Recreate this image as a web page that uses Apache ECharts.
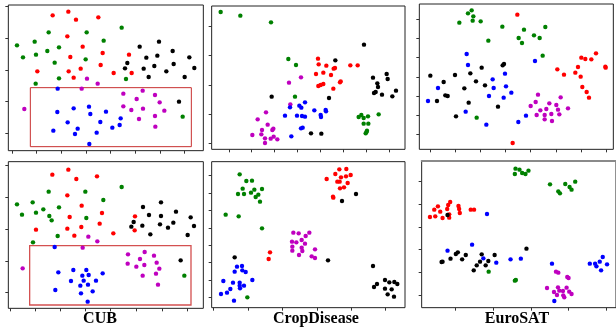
<!DOCTYPE html>
<html>
<head>
<meta charset="utf-8">
<script src="https://cdn.jsdelivr.net/npm/echarts@6/dist/echarts.min.js"></script>
<style>html,body{margin:0;padding:0;background:#fff}#c{width:616px;height:327px}</style>
</head>
<body>
<div id="c"></div>
<script>
// ---- data (t-SNE embedding coordinates, arbitrary units; y axis points downward) ----
const panelTitles = ['CUB', 'CropDisease', 'EuroSAT'];
const classNames = ['red', 'green', 'black', 'magenta', 'blue'];

// Panel 1: CUB (top)
const cubTopRed = [[158,46],[205,35],[228,59],[295,52],[202,109],[248,140],[308,159],[211,171],[112,214],[206,214],[242,206],[302,195],[221,233],[341,219],[387,164],[395,219]];
const cubTopGreen = [[51,136],[69,172],[104,125],[108,164],[146,97],[142,153],[177,142],[164,188],[177,235],[107,251],[260,97],[257,178],[311,122],[365,83],[378,237],[548,350]];
const cubTopBlack = [[419,140],[477,125],[439,173],[472,167],[518,153],[568,172],[382,189],[375,205],[431,206],[463,198],[521,192],[583,204],[446,231],[499,214],[554,231],[537,305]];
const cubTopMagenta = [[73,327],[245,266],[261,236],[293,251],[370,281],[428,272],[465,285],[410,297],[479,307],[370,319],[394,330],[429,326],[493,332],[417,357],[465,348],[466,380]];
const cubTopBlue = [[173,266],[172,336],[221,325],[267,320],[271,342],[318,335],[160,392],[203,367],[233,386],[225,402],[301,366],[362,355],[337,383],[359,375],[290,398],[268,432]];

// Panel 2: CropDisease (top)
const cropTopRed = [[339,176],[341,193],[364,197],[386,206],[390,204],[436,196],[458,196],[333,222],[355,218],[378,225],[407,244],[405,247],[340,258],[347,255],[355,252],[385,266]];
const cropTopGreen = [[47,36],[106,47],[198,67],[250,177],[273,195],[270,290],[461,351],[469,345],[476,354],[489,349],[476,371],[490,371],[486,392],[484,397],[482,400],[521,343]];
const cropTopBlack = [[477,134],[391,181],[504,233],[545,222],[548,237],[517,250],[519,261],[507,279],[512,276],[531,284],[573,272],[562,289],[372,294],[200,290],[318,400],[349,401]];
const cropTopMagenta = [[252,248],[288,232],[256,313],[183,337],[158,358],[188,374],[171,390],[205,386],[202,390],[142,405],[169,403],[180,415],[197,416],[206,410],[217,418],[180,429]];
const cropTopBlue = [[300,307],[283,317],[289,323],[255,322],[240,347],[276,347],[291,348],[300,350],[328,331],[362,330],[363,334],[347,345],[348,351],[288,385],[293,383],[259,409]];

// Panel 3: EuroSAT (top)
const euroTopRed = [[322,44],[442,208],[462,224],[496,218],[504,201],[512,230],[514,173],[526,177],[544,178],[558,160],[586,200],[587,203],[517,261],[530,276],[537,293],[308,429]];
const euroTopGreen = [[174,40],[185,31],[190,49],[188,62],[212,64],[148,68],[277,80],[406,81],[342,89],[235,122],[326,114],[336,129],[372,106],[389,114],[398,167],[200,353]];
const euroTopBlack = [[61,227],[135,225],[181,220],[215,203],[278,196],[282,192],[101,246],[198,244],[225,256],[163,265],[81,303],[106,286],[113,288],[176,308],[138,349],[264,320]];
const euroTopMagenta = [[384,284],[377,306],[362,318],[418,310],[452,292],[439,315],[444,329],[474,325],[391,331],[409,327],[380,345],[404,345],[424,342],[448,343],[404,358],[426,363]];
const euroTopBlue = [[170,162],[174,195],[375,183],[285,221],[248,238],[84,264],[251,264],[288,259],[54,303],[237,288],[304,278],[281,293],[167,335],[229,374],[348,347],[325,366]];

// Panel 4: CUB (bottom)
const cubBotRed = [[157,59],[205,44],[229,72],[291,64],[202,121],[245,152],[306,174],[209,186],[108,224],[202,221],[244,216],[299,206],[223,242],[340,235],[405,184],[404,226]];
const cubBotGreen = [[51,148],[66,179],[98,142],[108,173],[146,110],[130,163],[148,183],[155,196],[177,157],[256,110],[310,135],[365,96],[259,189],[173,243],[99,262],[553,362]];
const cubBotBlack = [[429,156],[483,142],[447,180],[483,183],[528,170],[572,187],[401,201],[394,215],[427,212],[480,208],[520,203],[582,213],[451,238],[504,218],[563,240],[542,316]];
const cubBotMagenta = [[68,340],[248,278],[265,245],[292,259],[384,298],[434,291],[462,302],[420,312],[470,323],[383,326],[409,335],[433,330],[478,341],[428,362],[468,356],[474,389]];
const cubBotBlue = [[164,276],[175,352],[220,345],[259,345],[247,362],[266,360],[213,378],[251,377],[288,377],[308,355],[166,405],[241,392],[264,389],[243,415],[278,409],[263,440]];

// Panel 5: CropDisease (bottom)
const cropBotRed = [[403,43],[424,42],[391,57],[437,60],[365,72],[397,80],[408,67],[423,64],[404,80],[428,84],[405,100],[417,97],[384,125],[385,128],[195,292],[191,312]];
const cropBotGreen = [[104,58],[124,78],[141,77],[113,101],[99,117],[117,117],[138,113],[148,104],[171,102],[152,126],[160,119],[165,140],[62,179],[101,184],[171,220],[127,427]];
const cropBotBlack = [[453,117],[411,138],[89,307],[369,316],[504,333],[516,387],[507,396],[540,375],[553,382],[568,381],[577,387],[540,401],[560,403],[548,418],[567,425]];
const cropBotMagenta = [[265,233],[281,235],[313,233],[302,243],[261,260],[274,262],[290,255],[300,266],[262,275],[290,278],[262,287],[292,288],[330,283],[282,300],[320,304],[330,309]];
const cropBotBlue = [[96,335],[111,333],[89,350],[112,346],[122,351],[55,378],[84,383],[104,383],[104,392],[105,400],[117,392],[142,375],[76,402],[66,413],[48,417],[87,437]];

// Panel 6: EuroSAT (bottom)
const euroBotRed = [[60,186],[76,184],[73,164],[84,154],[91,170],[98,189],[112,162],[115,150],[121,141],[118,188],[146,153],[148,162],[150,174],[183,164],[193,164],[118,178]];
const euroBotGreen = [[318,41],[330,44],[338,54],[348,57],[357,47],[316,57],[422,88],[447,109],[452,115],[468,87],[481,96],[487,104],[498,80],[237,350],[316,377],[319,375]];
const euroBotBlack = [[113,180],[95,321],[98,320],[122,311],[138,297],[144,292],[157,313],[168,300],[192,346],[201,331],[211,320],[216,298],[228,331],[236,318],[255,300],[351,281]];
const euroBotMagenta = [[440,350],[447,353],[474,366],[478,369],[413,399],[446,397],[472,398],[434,411],[450,407],[461,408],[480,410],[487,417],[443,420],[462,421],[465,427]];
const euroBotBlue = [[232,177],[187,269],[113,287],[221,310],[260,323],[303,313],[334,311],[428,326],[542,326],[558,326],[572,320],[581,306],[594,328],[562,334],[576,346],[435,438]];

// axis extents and tick values per panel
const xExtents = [[25,610],[20,600],[28,610],[25,610],[20,600],[35,621]];
const yExtents = [[15,452],[18,448],[12,448],[20,460],[20,458],[18,458]];
const xTicks = [
  [37,110,184,258,332,406,480,554],
  [72,140,208,277,346,415,484,553],
  [60,136,211,287,362,438,513,589],
  [30,105,180,256,332,409,486,563],
  [26,130,233,337,440,541],
  [136,250,364,478,592]
];
const yTicks = [
  [20,115,210,305,400],
  [80,167,255,342,430],
  [58,116,173,231,288,345,403],
  [32,127,222,318,413],
  [62,115,167,219,271,323,375,427],
  [80,148,216,284,352,420]
];
// highlight boxes (CUB panels)
const boxTop = [[91,263],[574,440]];
const boxBot = [[89,272],[573,450]];

// ---- layout & style ----
const panelData = [
  [cubTopRed, cubTopGreen, cubTopBlack, cubTopMagenta, cubTopBlue],
  [cropTopRed, cropTopGreen, cropTopBlack, cropTopMagenta, cropTopBlue],
  [euroTopRed, euroTopGreen, euroTopBlack, euroTopMagenta, euroTopBlue],
  [cubBotRed, cubBotGreen, cubBotBlack, cubBotMagenta, cubBotBlue],
  [cropBotRed, cropBotGreen, cropBotBlack, cropBotMagenta, cropBotBlue],
  [euroBotRed, euroBotGreen, euroBotBlack, euroBotMagenta, euroBotBlue]
];
const grids = [
  {left: 8.33, top: 5, width: 195, height: 145.67},
  {left: 211.67, top: 6, width: 193.33, height: 143.33},
  {left: 419.33, top: 4, width: 194, height: 145.33},
  {left: 8.33, top: 161.67, width: 195, height: 146.67},
  {left: 211.67, top: 161.67, width: 193.33, height: 146},
  {left: 421.67, top: 161, width: 195.33, height: 146.67}
];
const colors = {red: '#ff0000', green: '#008000', black: '#000000', magenta: '#bf00bf', blue: '#0000ff'};

const option = {
  animation: false,
  grid: grids.map(g => Object.assign({show: true, borderColor: '#222', borderWidth: 1, backgroundColor: 'transparent', containLabel: false}, g)),
  xAxis: [],
  yAxis: [],
  series: [],
  graphic: []
};

for (let i = 0; i < 6; i++) {
  option.xAxis.push({
    type: 'value', gridIndex: i, min: xExtents[i][0], max: xExtents[i][1],
    splitLine: {show: false}, axisLine: {show: false},
    axisLabel: {show: false},
    axisTick: {show: true, inside: false, length: 3, customValues: xTicks[i], lineStyle: {color: '#333', width: 1}}
  });
  option.yAxis.push({
    type: 'value', gridIndex: i, inverse: true, min: yExtents[i][0], max: yExtents[i][1],
    splitLine: {show: false}, axisLine: {show: false},
    axisLabel: {show: false},
    axisTick: {show: true, inside: false, length: 3, customValues: yTicks[i], lineStyle: {color: '#333', width: 1}}
  });
  panelData[i].forEach((pts, k) => {
    const s = {
      type: 'scatter', xAxisIndex: i, yAxisIndex: i, name: classNames[k],
      data: pts, symbolSize: 4.4,
      itemStyle: {color: colors[classNames[k]], opacity: 1},
      silent: true, z: 3
    };
    if (k === 0 && (i === 0 || i === 3)) {
      const box = i === 0 ? boxTop : boxBot;
      s.markArea = {
        silent: true,
        itemStyle: {color: 'rgba(0,0,0,0)', borderColor: i === 0 ? '#c83030' : '#d45050', borderWidth: i === 0 ? 1 : 1.3},
        data: [[{coord: box[0]}, {coord: box[1]}]]
      };
    }
    option.series.push(s);
  });
}

// extra gray top edge on the bottom-right panel
option.xAxis.push({
  type: 'value', gridIndex: 5, position: 'top', min: xExtents[5][0], max: xExtents[5][1],
  splitLine: {show: false}, axisLabel: {show: false}, axisTick: {show: false},
  axisLine: {show: true, lineStyle: {color: '#8a8a8a', width: 2}}
});

const labelX = [100, 316, 517];
panelTitles.forEach((t, j) => {
  option.graphic.push({
    type: 'text', x: labelX[j], y: 319,
    style: {
      text: t, fill: '#000',
      align: 'center', verticalAlign: 'middle',
      textAlign: 'center', textVerticalAlign: 'middle',
      font: 'bold 16px "Liberation Serif", "Times New Roman", serif'
    }
  });
});

const chart = echarts.init(document.getElementById('c'), null, {renderer: 'canvas'});
chart.setOption(option);
</script>
</body>
</html>
